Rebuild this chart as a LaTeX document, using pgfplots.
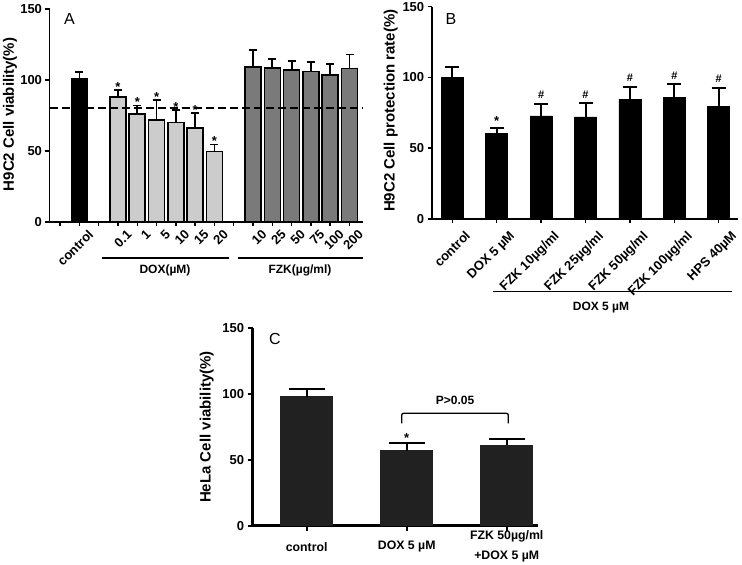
\documentclass[border=0pt]{standalone}
\usepackage{fontspec}
\setmainfont{Liberation Sans}
\usepackage{pgfplots}
\pgfplotsset{compat=1.18}
\tikzset{sig/.style={font=\fontsize{13bp}{15bp}\selectfont\bfseries, anchor=base, inner sep=0pt}}
\begin{document}
\begin{tikzpicture}[x=1bp,y=1bp]
\pgfplotsset{
  common/.style={
    scale only axis,
    axis x line=bottom, axis y line=left,
    axis line style={-, line width=1.8bp, black},
    tick align=outside,
    major tick length=4bp,
    tick style={black, line width=1.5bp},
    ymin=0, ymax=150, ytick={0,50,100,150},
    /pgf/number format/assume math mode=true,
    yticklabel style={font=\fontsize{13bp}{15bp}\selectfont\bfseries},
    xticklabel style={font=\fontsize{13bp}{15bp}\selectfont\bfseries},
    ylabel style={font=\fontsize{15bp}{17bp}\selectfont\bfseries, anchor=center},
    clip=false,
  },
  ebar/.style={error bars/.cd, y dir=plus, y explicit, error mark=|,
    error bar style={line width=1.8bp, black},
    error mark options={black, line width=1.8bp, mark size=4bp}},
  ebarB/.style={error bars/.cd, y dir=plus, y explicit, error mark=|,
    error bar style={line width=2bp, black},
    error mark options={black, line width=2bp, mark size=7bp}},
  ebarC/.style={error bars/.cd, y dir=plus, y explicit, error mark=|,
    error bar style={line width=2.2bp, black},
    error mark options={black, line width=2.2bp, mark size=18bp}},
}
% ---------------- Panel A ----------------
\begin{axis}[common, at={(49.5bp,343bp)}, anchor=south west,
  width=313.5bp, height=213bp, xmin=-0.55, xmax=15.7,
  xtick={0,...,15},
  xticklabels={{},control,{},0.1,1,5,10,15,20,{},10,25,50,75,100,200},
  xticklabel style={xshift=8bp, yshift=2bp, rotate=45, anchor=north east},
  ylabel={H9C2 Cell viability(\%)},
  ylabel style={at={(axis description cs:-0.126,0.505)}}]
\addplot[ybar, bar width=16bp, bar shift=0pt, fill=black, draw=black, line width=1.6bp, ebar]
  coordinates {(1,100.5) +- (0,5)};
\addplot[ybar, bar width=16bp, bar shift=0pt, fill=black!20, draw=black, line width=1.6bp, ebar]
  coordinates {(3,88) +- (0,5) (4,76) +- (0,6) (5,72) +- (0,14) (6,70) +- (0,9) (7,66) +- (0,10.5) (8,49.5) +- (0,5)};
\addplot[ybar, bar width=16bp, bar shift=0pt, fill=black!52, draw=black, line width=1.6bp, ebar]
  coordinates {(10,109) +- (0,12) (11,108.5) +- (0,6.5) (12,107) +- (0,6.5) (13,106) +- (0,6.8) (14,103.5) +- (0,7.8) (15,108) +- (0,10)};
\addplot[black, line width=2.2bp, dash pattern=on 8bp off 4bp] coordinates {(-0.55,80) (15.7,80)};
\node[sig, yshift=-1.3bp] at (axis cs:3,93) {*};
\node[sig, yshift=-1.3bp] at (axis cs:4,82) {*};
\node[sig, yshift=-1.3bp] at (axis cs:5,86) {*};
\node[sig, yshift=-1.3bp] at (axis cs:6,79) {*};
\node[sig, yshift=-1.3bp] at (axis cs:7,76.5) {*};
\node[sig, yshift=-1.3bp] at (axis cs:8,54.5) {*};
\end{axis}
\node[font=\fontsize{16bp}{18bp}\selectfont] at (69.5,546) {A};
\draw[line width=1.2bp] (102,307) -- (229,307);
\draw[line width=1.2bp] (238,307) -- (363,307);
\node[font=\fontsize{12bp}{14bp}\selectfont\bfseries] at (165,295) {DOX(µM)};
\node[font=\fontsize{12bp}{14bp}\selectfont\bfseries] at (300,295) {FZK(µg/ml)};
% ---------------- Panel B ----------------
\begin{axis}[common, at={(431.7bp,346bp)}, anchor=south west,
  width=306.3bp, height=212.3bp, xmin=-0.464, xmax=6.435,
  xtick={0,...,6},
  xticklabels={control,DOX 5 µM,FZK 10µg/ml,FZK 25µg/ml,FZK 50µg/ml,FZK 100µg/ml,HPS 40µM},
  xticklabel style={xshift=12bp, yshift=-2bp, rotate=45, anchor=north east},
  ylabel={H9C2 Cell protection rate(\%)},
  ylabel style={at={(axis description cs:-0.134,0.51)}}]
\addplot[ybar, bar width=22bp, bar shift=0pt, fill=black, draw=black, line width=0.5bp, ebarB]
  coordinates {(0,99.8) +- (0,7.7) (1,60.5) +- (0,3.8) (2,72.9) +- (0,8.5) (3,72.2) +- (0,9.7) (4,84.7) +- (0,8.7) (5,85.9) +- (0,9.4) (6,79.8) +- (0,13.1)};
\node[sig, yshift=2.3bp] at (axis cs:1,64.3) {*};
\node[sig, font=\fontsize{11bp}{13bp}\selectfont\bfseries, yshift=4.8bp] at (axis cs:2,81.4) {\#};
\node[sig, font=\fontsize{11bp}{13bp}\selectfont\bfseries, yshift=4.8bp] at (axis cs:3,81.9) {\#};
\node[sig, font=\fontsize{11bp}{13bp}\selectfont\bfseries, yshift=4.8bp] at (axis cs:4,93.4) {\#};
\node[sig, font=\fontsize{11bp}{13bp}\selectfont\bfseries, yshift=4.8bp] at (axis cs:5,95.3) {\#};
\node[sig, font=\fontsize{11bp}{13bp}\selectfont\bfseries, yshift=4.8bp] at (axis cs:6,92.9) {\#};
\end{axis}
\node[font=\fontsize{16bp}{18bp}\selectfont] at (451,546) {B};
\draw[line width=1.2bp] (493,273.3) -- (731.7,273.3);
\node[font=\fontsize{12bp}{14bp}\selectfont\bfseries] at (601,257) {DOX 5 µM};
% ---------------- Panel C ----------------
\begin{axis}[common, at={(252.7bp,39.3bp)}, anchor=south west,
  width=285.3bp, height=197.4bp, xmin=-0.54, xmax=2.313,
  axis line style={-, line width=2.7bp, black},
  tick style={black, line width=2bp}, major tick length=5bp,
  xtick={0,1,2},
  xticklabels={control,DOX 5 µM,{FZK 50µg/ml\\+DOX 5 µM}},
  xticklabel style={font=\fontsize{12.3bp}{20bp}\selectfont\bfseries, align=center, anchor=center, yshift=-16bp},
  ylabel={HeLa Cell viability(\%)},
  ylabel style={at={(axis description cs:-0.161,0.5)}}]
\addplot[ybar, bar width=52bp, bar shift=0pt, fill=black!87, draw=black!87, line width=0.5bp, ebarC]
  coordinates {(0,98) +- (0,5.6) (1,57) +- (0,6) (2,61) +- (0,4.8)};
\node[sig, yshift=0bp] at (axis cs:1,63) {*};
\end{axis}
\node[font=\fontsize{16bp}{18bp}\selectfont] at (275,226) {C};
\draw[line width=1.3bp, rounded corners=2bp] (401.7,141.7) -- (401.7,151.7) -- (508.3,151.7) -- (508.3,141.7);
\node[font=\fontsize{12bp}{14bp}\selectfont\bfseries] at (455,165) {P>0.05};
\pgfresetboundingbox
\useasboundingbox (0,0) rectangle (742,565);
\end{tikzpicture}
\end{document}
